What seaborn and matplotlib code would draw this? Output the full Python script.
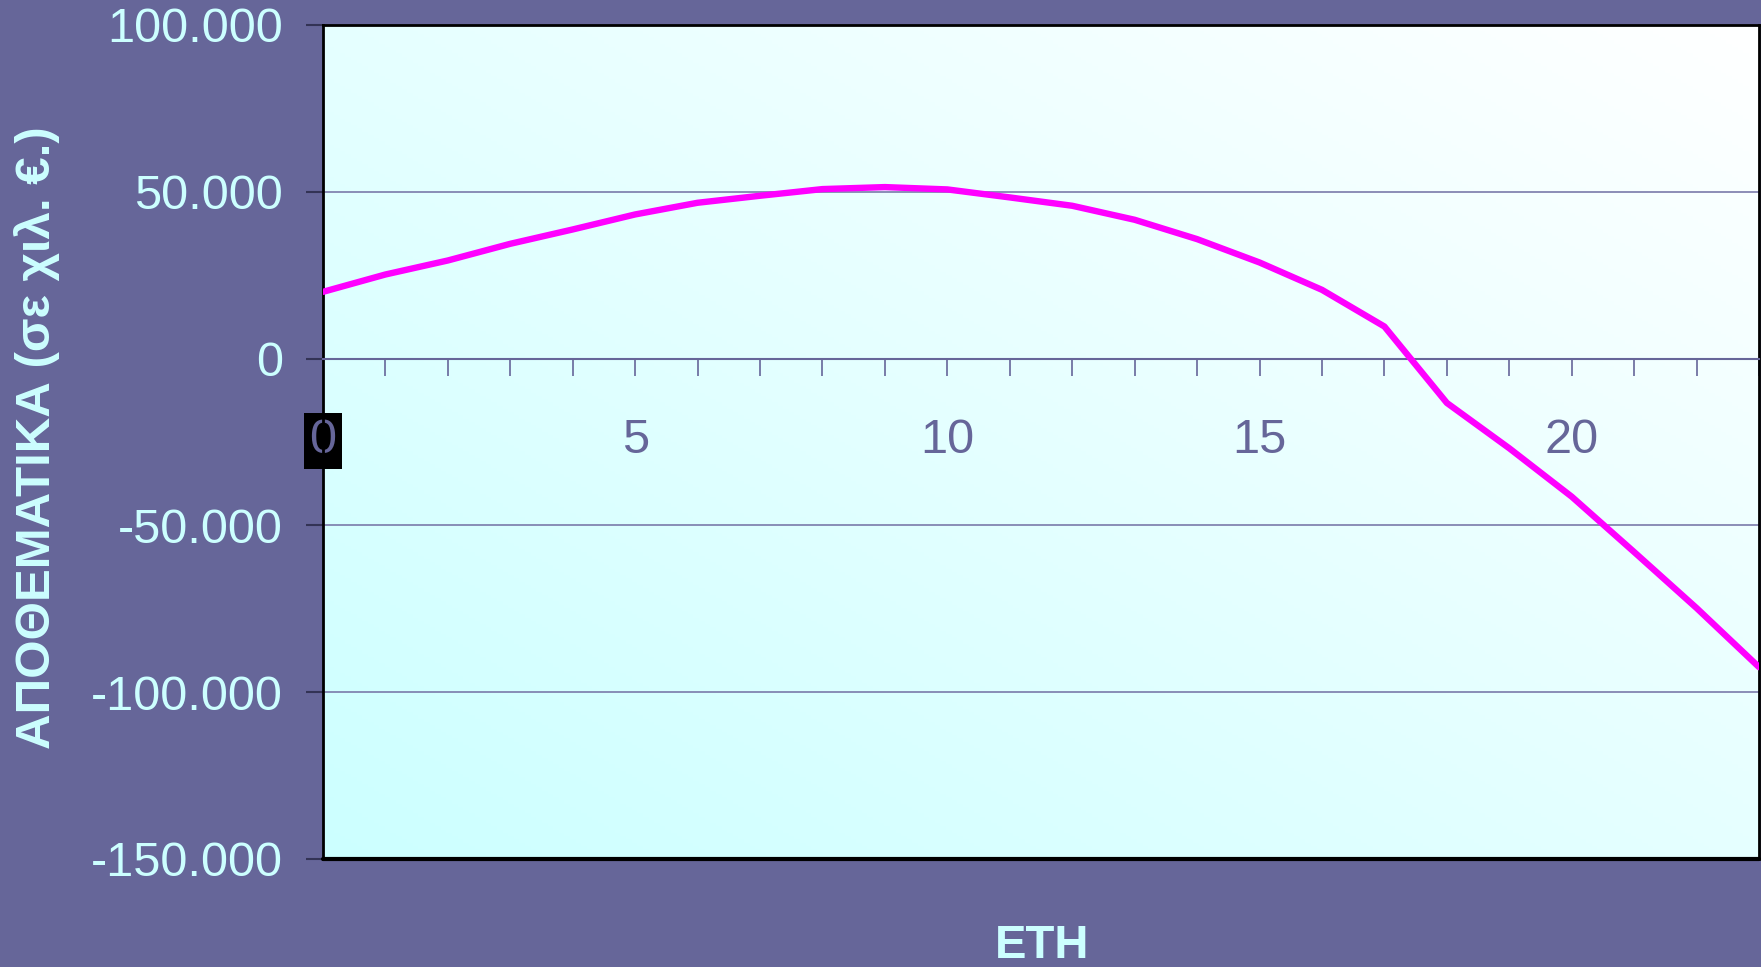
import numpy as np
import matplotlib
matplotlib.use("Agg")
import matplotlib.pyplot as plt
import seaborn as sns
from matplotlib.ticker import FuncFormatter, MultipleLocator

# === DATA ===
years = list(range(0, 24))
reserves = [20000, 25200, 29400, 34400, 38700, 43200, 46700, 48800, 50800, 51400,
            50700, 48300, 45800, 41600, 35800, 28800, 20600, 9600, -13300, -26900,
            -41400, -58000, -74800, -92500]
y_ticks = [-150000, -100000, -50000, 0, 50000, 100000]
x_ticks = [0, 5, 10, 15, 20]
y_label = "ΑΠΟΘΕΜΑΤΙΚΑ (σε χιλ. €.)"
x_label = "ΕΤΗ"

# === COLOURS ===
BG = "#666699"
CYAN = "#CCFFFF"
LINE = "#FF00FF"

sns.set_style("white")
plt.rcParams['font.family'] = ['Liberation Sans', 'DejaVu Sans']

fig = plt.figure(figsize=(17.61, 9.67), dpi=100, facecolor=BG)
ax = fig.add_axes([0.1834, 0.1117, 0.8155, 0.8625])

# diagonal gradient background (light cyan bottom-left -> white top-right)
g = np.linspace(0, 1, 256)
gx, gy = np.meshgrid(g, g)
t = ((gx + gy) / 2)[..., None]
c0 = np.array([204, 255, 255]) / 255
img = c0 + (1 - c0) * t
ax.imshow(img, extent=[0, 1, 0, 1], transform=ax.transAxes, origin='lower',
          aspect='auto', zorder=0)

sns.lineplot(x=years, y=reserves, color=LINE, linewidth=4.6, ax=ax, zorder=3)

ax.set_xlim(0, 23)
ax.set_ylim(-150000, 100000)

# === axes styling ===
ax.spines['bottom'].set_position(('data', 0))
ax.spines['bottom'].set_color(BG)
ax.spines['bottom'].set_linewidth(1.5)
for s in ['left', 'top', 'right']:
    ax.spines[s].set_color('black')
    ax.spines[s].set_linewidth(2)
ax.axhline(-150000, color='black', lw=3, clip_on=False, zorder=5)

ax.set_yticks(y_ticks)
ax.yaxis.set_major_formatter(FuncFormatter(lambda v, p: f"{int(v):,}".replace(',', '.')))
ax.tick_params(axis='y', direction='out', length=12, width=1.5, color='#333355',
               labelsize=35, labelcolor=CYAN, pad=17, left=True)

ax.set_xticks(x_ticks)
ax.xaxis.set_minor_locator(MultipleLocator(1))
ax.tick_params(axis='x', which='both', direction='out', length=12, width=1.2,
               color=BG, bottom=True)
ax.tick_params(axis='x', which='major', labelsize=35, labelcolor=BG, pad=31)

ax.yaxis.grid(True, color='#7A7AAA', lw=1.2)
ax.xaxis.grid(False)
ax.set_xlabel("")
ax.set_ylabel("")

# the first x label sits on a black box
ax.xaxis.get_major_ticks()[0].label1.set_bbox(dict(facecolor='black', edgecolor='none', pad=4))

fig.text(0.021, 1 - 438 / 967, y_label, rotation=90, ha='center', va='center',
         fontsize=35.5, fontweight='bold', color=CYAN)
fig.text(1042 / 1761, 1 - 946 / 967, x_label, ha='center', va='center',
         fontsize=34, fontweight='bold', color=CYAN)

plt.savefig("out.png", dpi=100, facecolor=BG)
